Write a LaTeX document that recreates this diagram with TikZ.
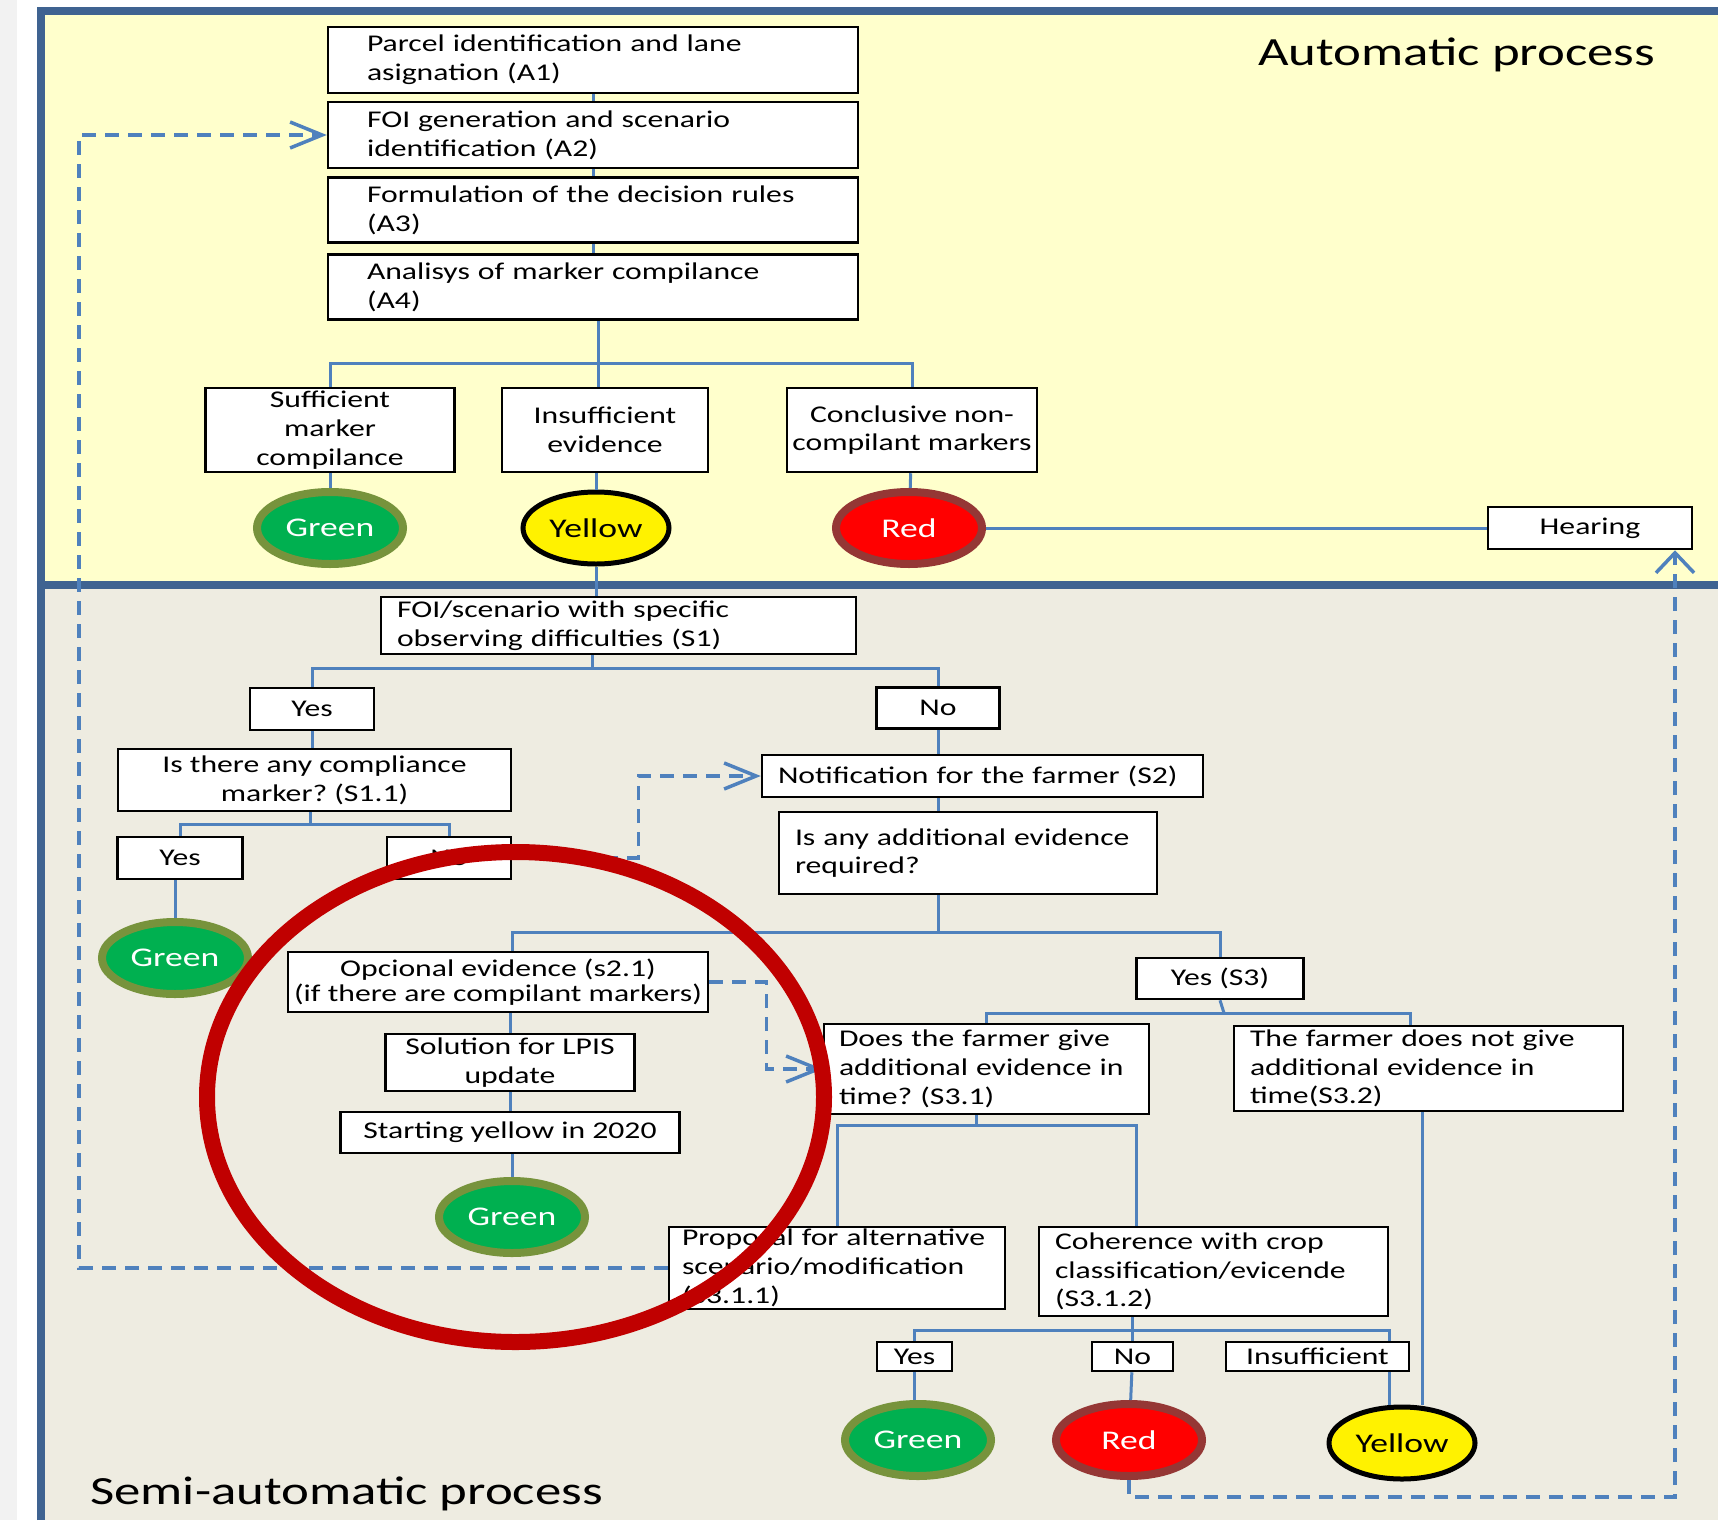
\documentclass[tikz,border=0pt]{standalone}
\usepackage{fontspec}
\setmainfont{Carlito}[FakeStretch=1.32]
\usetikzlibrary{arrows.meta,shapes.geometric}
\definecolor{panelyel}{HTML}{FFFFCC}
\definecolor{panelgrey}{HTML}{EEECE1}
\definecolor{framebl}{HTML}{3F6391}
\definecolor{linkbl}{HTML}{4F81BD}
\definecolor{okgreen}{HTML}{00B050}
\definecolor{okrim}{HTML}{77933C}
\definecolor{badrim}{HTML}{953735}
\definecolor{ringred}{HTML}{C00000}
\frenchspacing
\begin{document}
\begin{tikzpicture}[x=1pt, y=-1pt,
	box/.style={draw, fill=white, line width=2.5pt, inner sep=0pt, align=center, font=\fontsize{24}{28.8}\selectfont},
	lbox/.style={box, align=left},
	lamp/.style={ellipse, minimum width=146pt, minimum height=72pt, inner sep=0pt, font=\fontsize{27}{30}\selectfont},
	glamp/.style={lamp, fill=okgreen, draw=okrim, line width=8pt, text=white},
	rlamp/.style={lamp, fill=red, draw=badrim, line width=8pt, text=white},
	ylamp/.style={lamp, fill=yellow, draw=black, line width=5pt},
	conn/.style={draw=linkbl, line width=3pt},
	loopback/.style={draw=linkbl, line width=3.5pt, dash pattern=on 14pt off 9pt, -{Straight Barb[length=32pt, width=26pt]}},
	frame/.style={draw=framebl, line width=8pt},
	title/.style={anchor=base west, inner sep=0pt, font=\fontsize{40}{48}\selectfont}]
	\useasboundingbox (0,0) rectangle (1718,1520);
	\fill [black!5] (0,0) rectangle (17,1520);
	\fill [panelyel] (41,11) rectangle (1718,585);
	\fill [panelgrey] (41,585) rectangle (1718,1520);
	\draw [frame] (41,1520) -- (41,11) -- (1718,11);
	\draw [frame] (41,585) -- (1718,585);
	\node [title] (autot) at (1258,66) {Automatic process};
	\node [title] (semit) at (90,1504) {Semi-automatic process};

	\node [lbox, minimum width=530pt, minimum height=66pt, text width=452pt] (parc) at (593,60) {Parcel identification and lane\\asignation (A1)};
	\node [lbox, minimum width=530pt, minimum height=66pt, text width=452pt] (foi) at (593,135) {FOI generation and scenario\\identification (A2)};
	\node [lbox, minimum width=530pt, minimum height=65pt, text width=452pt] (rules) at (593,210) {Formulation of the decision rules\\(A3)};
	\node [lbox, minimum width=530pt, minimum height=65pt, text width=452pt] (ana) at (593,287) {Analisys of marker compilance\\(A4)};
	\node [box, minimum width=249pt, minimum height=84pt] (suff) at (330,430) {Sufficient\\marker\\compilance};
	\node [box, minimum width=206pt, minimum height=84pt] (insuff) at (605,430) {Insufficient\\evidence};
	\node [box, minimum width=250pt, minimum height=84pt] (concl) at (912,430) {Conclusive non-\\compilant markers};
	\node [glamp] (g1) at (330,528) {Green};
	\node [ylamp] (y1) at (596,528) {Yellow};
	\node [rlamp] (r1) at (909,528) {Red};
	\node [box, minimum width=204pt, minimum height=42pt] (hearing) at (1590,528) {Hearing};

	\node [lbox, minimum width=475pt, minimum height=57pt, text width=443pt] (diff) at (618.5,625.5) {FOI/scenario with specific\\observing difficulties (S1)};
	\node [box, minimum width=124pt, minimum height=42pt] (yes1) at (312,709) {Yes};
	\node [box, minimum width=123pt, minimum height=41pt] (no1) at (938,708) {No};
	\node [box, minimum width=393pt, minimum height=62pt] (q11) at (314.5,780) {Is there any compliance\\marker? (S1.1)};
	\node [box, minimum width=125pt, minimum height=42pt] (yes2) at (180,858) {Yes};
	\node [box, minimum width=124pt, minimum height=42pt] (no2) at (449,858) {No};
	\node [glamp] (g2) at (175,958) {Green};
	\node [lbox, minimum width=441pt, minimum height=42pt, text width=409pt] (notif) at (982.5,776) {Notification for the farmer (S2)};
	\node [lbox, minimum width=378pt, minimum height=82pt, text width=346pt] (addev) at (968,853) {Is any additional evidence\\required?};
	\node [box, minimum width=420pt, minimum height=60pt, font=\fontsize{24}{25}\selectfont] (opc) at (498,982) {Opcional evidence (s2.1)\\(if there are compilant markers)};
	\node [box, minimum width=249pt, minimum height=57pt] (lpis) at (510,1062.5) {Solution for LPIS\\update};
	\node [box, minimum width=339pt, minimum height=41pt] (start) at (510,1132.5) {Starting yellow in 2020};
	\node [glamp] (g3) at (512,1217) {Green};
	\node [box, minimum width=167pt, minimum height=41pt] (yess3) at (1220,978.5) {Yes (S3)};
	\node [lbox, minimum width=325pt, minimum height=90pt, text width=295pt] (does) at (986.5,1069) {Does the farmer give\\additional evidence in\\time? (S3.1)};
	\node [lbox, minimum width=389pt, minimum height=85pt, text width=357pt] (notgive) at (1428.5,1068.5) {The farmer does not give\\additional evidence in\\time(S3.2)};
	\node [lbox, minimum width=336pt, minimum height=82pt, text width=310pt] (prop) at (837,1268) {Proposal for alternative\\scenario/modification\\(S3.1.1)};
	\node [lbox, minimum width=349pt, minimum height=89pt, text width=317pt] (coher) at (1213.5,1271.5) {Coherence with crop\\classification/evicende\\(S3.1.2)};
	\node [box, minimum width=75pt, minimum height=29pt] (yes4) at (914.5,1356.5) {Yes};
	\node [box, minimum width=81pt, minimum height=29pt] (no4) at (1132.5,1356.5) {No};
	\node [box, minimum width=183pt, minimum height=29pt] (insuf4) at (1317.5,1356.5) {Insufficient};
	\node [glamp] (g4) at (918,1440) {Green};
	\node [rlamp] (r4) at (1129,1440) {Red};
	\node [ylamp] (y4) at (1402,1443) {Yellow};

	\coordinate (busa) at (598,363);
	\coordinate (busb) at (592,668);
	\coordinate (busc) at (310,824);
	\coordinate (busd) at (938,932);
	\coordinate (odrop) at (512,932);
	\coordinate (buse) at (1224,1013);
	\coordinate (ndrop) at (1410,1013);
	\coordinate (ydrop) at (1422,1443);
	\coordinate (busf) at (976,1125);
	\coordinate (cdrop) at (1136,1125);
	\coordinate (busg) at (1132,1330);
	\coordinate (idrop) at (1389,1330);
	\coordinate (ret) at (79,1268);
	\coordinate (hold) at (1675,1497);

	\path [conn] (parc) edge (foi) (foi) edge (rules) (rules) edge (ana);
	\draw [conn] (busa |- ana.south) -- (busa |- insuff.north);
	\draw [conn] (suff.north) |- (busa) -| (concl.north);
	\path [conn] (suff) edge (g1) (concl) edge (r1) (r1) edge (hearing);
	\draw [conn] (y1.north |- insuff.south) -- (y1.north);
	\draw [conn] (y1.south) -- (y1.south |- diff.north);
	\draw [conn] (busb |- diff.south) -- (busb);
	\draw [conn] (yes1.north) |- (busb) -| (no1.north);
	\draw [conn] (yes1.south) -- (yes1.south |- q11.north);
	\draw [conn] (busc |- q11.south) -- (busc);
	\draw [conn] (yes2.north) |- (busc) -| (no2.north);
	\draw [conn] (g2.north |- yes2.south) -- (g2.north);
	\draw [conn] (no1.south) -- (no1.south |- notif.north);
	\draw [conn] (busd |- notif.south) -- (busd |- addev.north);
	\draw [conn] (busd |- addev.south) -- (busd);
	\draw [conn] (odrop |- opc.north) -- (odrop) -- (busd) -| (yess3.north);
	\draw [conn] (lpis.north |- opc.south) -- (lpis.north);
	\path [conn] (lpis) edge (start);
	\draw [conn] (g3.north |- start.south) -- (g3.north);
	\draw [conn] (yess3.south) -- (buse);
	\draw [conn] (does.north) |- (buse) -- (ndrop) -- (ndrop |- notgive.north);
	\draw [conn] (busf |- does.south) -- (busf);
	\draw [conn] (prop.north) |- (busf) -- (cdrop) -- (cdrop |- coher.north);
	\draw [conn] (busg |- coher.south) -- (busg) -- (busg |- no4.north);
	\draw [conn] (yes4.north) |- (busg) -- (idrop) -- (idrop |- insuf4.north);
	\draw [conn] (idrop |- insuf4.south) -- (idrop |- y4.north);
	\draw [conn] (yes4.south) -- (yes4.south |- g4.north);
	\path [conn] (no4) edge (r4);
	\draw [conn] (ydrop |- notgive.south) -- (ydrop |- y4.north);

	\draw [loopback] (no2.east) -- ++(126,0) |- (notif.west);
	\draw [loopback] (opc.east) -- ++(57,0) |- (does.west);
	\draw [loopback] (prop.west) -- (ret) |- (foi.west);
	\draw [loopback, -{Straight Barb[length=20pt, width=38pt]}] (r4.south) |- (hold) -- (hold |- hearing.south);

	\draw [ringred, line width=16pt] (515.5,1097) ellipse [x radius=308.5, y radius=245];
\end{tikzpicture}
\end{document}
